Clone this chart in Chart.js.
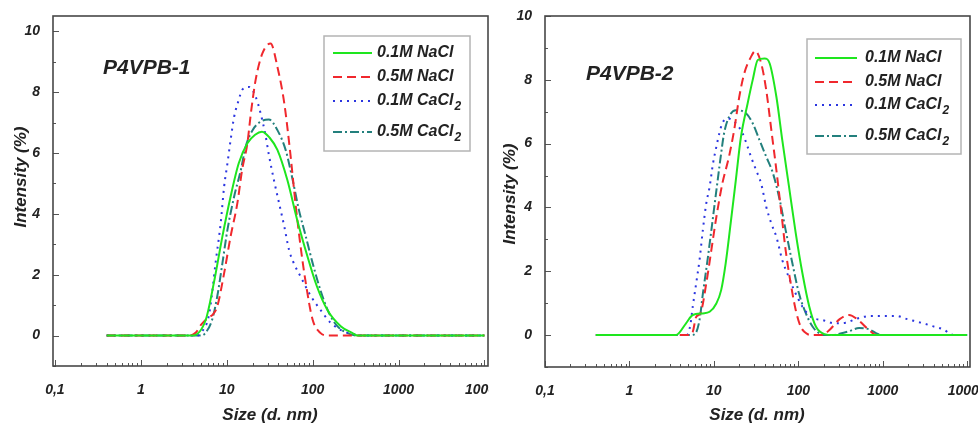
<!DOCTYPE html>
<html>
<head>
<meta charset="utf-8">
<script src="https://cdn.jsdelivr.net/npm/chart.js@4.4.1/dist/chart.umd.min.js"></script>
<style>
    html, body { margin: 0; padding: 0; background: #fff; }
    .row { display: flex; width: 978px; height: 427px; }
    .cell { width: 489px; height: 427px; }
</style>
</head>
<body>
<div class="row">
    <div class="cell"><canvas id="chart1" width="489" height="427"></canvas></div>
    <div class="cell"><canvas id="chart2" width="489" height="427"></canvas></div>
</div>
<script>

// =====================
// DATA
// =====================

const X_TICKS = [0.1, 1, 10, 100, 1000, 10000];
const Y_TICKS = [0, 2, 4, 6, 8, 10];

const LEGEND_LABELS = ['0.1M NaCl', '0.5M NaCl', '0.1M CaCl', '0.5M CaCl'];
const LEGEND_SUBS = ['', '', '2', '2'];

// P4VPB-1
const p1Nacl01X = [0.4, 3.98, 5.7, 7.08, 8.91, 11.1, 13.8, 17.4, 21.4, 25.7, 31.6, 38.9, 50.8, 66.1, 87.1, 112, 148, 214, 288, 331, 10000];
const p1Nacl01Y = [0, 0, 0.52, 1.73, 3.26, 4.57, 5.66, 6.32, 6.6, 6.7, 6.5, 6.1, 5.11, 3.8, 2.6, 1.62, 0.85, 0.3, 0.09, 0, 0];

const p1Nacl05X = [0.4, 3.63, 4.37, 5.01, 6.03, 6.92, 7.76, 9.33, 11.1, 13.3, 15.1, 17.4, 19.1, 21.7, 26.0, 32.4, 38.9, 46.8, 55.5, 63.1, 72.4, 83.2, 100, 123, 148, 10000];
const p1Nacl05Y = [0, 0, 0.1, 0.35, 0.58, 0.7, 0.96, 2.05, 3.26, 4.35, 5.44, 6.32, 7.3, 8.4, 9.27, 9.6, 8.83, 7.63, 5.88, 4.35, 2.93, 1.73, 0.52, 0.09, 0, 0];

const p1Cacl01X = [0.4, 4.57, 5.01, 6.17, 6.76, 7.41, 8.51, 9.33, 10.2, 11.1, 12.2, 13.8, 15.1, 18.2, 21.7, 24.8, 28.2, 30.9, 35.5, 40.7, 46.8, 53.1, 60.3, 72.4, 95.5, 123, 162, 229, 331, 398, 10000];
const p1Cacl01Y = [0, 0, 0.09, 0.63, 1.4, 2.38, 3.7, 4.9, 5.66, 6.43, 7.19, 7.74, 8.07, 8.17, 7.85, 7.3, 6.6, 5.95, 5.1, 4.35, 3.58, 2.82, 2.38, 1.94, 1.29, 0.85, 0.42, 0.14, 0.03, 0, 0];

const p1Cacl05X = [0.4, 5.01, 5.5, 6.76, 7.76, 8.91, 10.2, 12.2, 14.6, 16.6, 20.0, 24.8, 30.9, 38.9, 48.5, 57.5, 69.2, 83.2, 100, 123, 155, 195, 251, 331, 10000];
const p1Cacl05Y = [0, 0, 0.05, 0.52, 1.29, 2.38, 3.48, 4.57, 5.44, 6.2, 6.75, 7.03, 7.1, 6.75, 6.1, 5.22, 4.13, 3.26, 2.38, 1.5, 0.74, 0.3, 0.09, 0, 0];

// P4VPB-2
const p2Nacl01X = [0.4, 3.55, 4.68, 5.62, 7.41, 8.91, 10.7, 12.2, 13.8, 15.8, 18.2, 20.9, 25.1, 28.8, 33.1, 39.8, 45.7, 55.0, 64.6, 77.6, 93.3, 112, 135, 162, 204, 257, 10000];
const p2Nacl01Y = [0, 0, 0.37, 0.63, 0.68, 0.73, 0.99, 1.41, 2.25, 3.5, 4.86, 6.2, 7.26, 7.99, 8.62, 8.67, 8.52, 7.47, 6.11, 4.65, 3.19, 1.93, 0.89, 0.26, 0.03, 0, 0];

const p2Nacl05X = [0.4, 5.01, 5.62, 6.17, 6.92, 8.13, 9.33, 10.7, 12.6, 15.1, 17.4, 20.0, 22.9, 27.5, 30.9, 36.3, 41.7, 47.9, 55.0, 63.1, 70.8, 81.3, 93.3, 107, 129, 145, 191, 234, 309, 398, 525, 661, 851, 10000];
const p2Nacl05Y = [0, 0, 0.1, 0.57, 0.68, 1.62, 2.66, 3.7, 4.75, 5.59, 6.43, 7.47, 8.2, 8.72, 8.9, 8.52, 7.68, 6.43, 5.17, 3.81, 2.66, 1.62, 0.78, 0.26, 0.03, 0, 0, 0.16, 0.5, 0.63, 0.45, 0.2, 0, 0];

const p2Cacl01X = [0.4, 4.79, 5.25, 5.62, 6.17, 6.76, 7.41, 8.13, 8.91, 9.77, 10.7, 11.6, 12.6, 14.5, 17.4, 21.9, 25.1, 27.5, 31.6, 36.3, 41.7, 47.9, 55.0, 64.6, 74.1, 89.1, 112, 141, 195, 269, 363, 501, 724, 1000, 1445, 1950, 2818, 3890, 5370, 6166, 6918, 10000];
const p2Cacl01Y = [0, 0, 0.3, 0.89, 1.62, 2.35, 3.3, 4.13, 4.65, 5.38, 5.9, 6.32, 6.64, 6.79, 6.69, 6.32, 5.9, 5.59, 5.17, 4.75, 4.02, 3.5, 3.08, 2.35, 1.93, 1.41, 0.89, 0.57, 0.47, 0.37, 0.39, 0.52, 0.6, 0.6, 0.6, 0.5, 0.39, 0.28, 0.16, 0.05, 0, 0];

const p2Cacl05X = [0.4, 5.25, 5.89, 6.76, 7.41, 8.51, 9.77, 11.1, 12.2, 13.2, 15.1, 18.2, 24.0, 28.8, 34.7, 41.7, 50.1, 60.3, 70.8, 85.1, 102, 123, 148, 178, 200, 251, 316, 398, 525, 692, 832, 955, 10000];
const p2Cacl05Y = [0, 0, 0.02, 0.47, 1.3, 2.45, 3.7, 4.86, 5.7, 6.32, 6.84, 7.05, 6.95, 6.64, 6.11, 5.59, 5.07, 4.23, 3.29, 2.25, 1.3, 0.68, 0.26, 0.05, 0, 0, 0.05, 0.12, 0.22, 0.18, 0.06, 0, 0];


// =====================
// STYLE
// =====================

const FONT = '"Liberation Sans", Arial, sans-serif';
const TEXT = '#222';

const LINE_STYLES = [
    { color: '#1ee61e', dash: [] },
    { color: '#f0282d', dash: [9, 5] },
    { color: '#2b35e0', dash: [2, 5] },
    { color: '#23807d', dash: [9, 3, 2, 3] }
];

function pts(xs, ys) {
    return xs.map((x, i) => ({ x: x, y: ys[i] }));
}


// =====================
// DECOR PLUGIN (frame, ticks, legend, titles)
// =====================

const decorPlugin = {
    id: 'decor',
    afterDatasetsDraw(chart, args, opts) {
        const ctx = chart.ctx;
        const a = chart.chartArea;
        const xs = chart.scales.x;
        const ys = chart.scales.y;

        ctx.save();

        // inward ticks
        ctx.strokeStyle = '#555';
        ctx.lineWidth = 1;
        ctx.beginPath();
        for (let e = -1; e <= 4; e++) {
            for (let k = 1; k <= 9; k++) {
                const v = k * Math.pow(10, e);
                if (v < xs.min || v > xs.max) continue;
                const px = Math.round(xs.getPixelForValue(v)) + 0.5;
                const len = k === 1 ? 6 : 3;
                ctx.moveTo(px, a.bottom);
                ctx.lineTo(px, a.bottom - len);
            }
        }
        for (let v = Math.ceil(ys.min); v <= ys.max; v++) {
            const py = Math.round(ys.getPixelForValue(v)) + 0.5;
            const len = v % 2 === 0 ? 6 : 3;
            ctx.moveTo(a.left, py);
            ctx.lineTo(a.left + len, py);
        }
        ctx.stroke();

        // frame
        ctx.strokeStyle = '#484848';
        ctx.lineWidth = 1.6;
        ctx.strokeRect(a.left, a.top, a.right - a.left, a.bottom - a.top);

        // legend
        const lg = opts.legend;
        ctx.fillStyle = '#fff';
        ctx.fillRect(lg.x, lg.y, lg.w, lg.h);
        ctx.strokeStyle = '#b4b4b4';
        ctx.lineWidth = 1.5;
        ctx.strokeRect(lg.x, lg.y, lg.w, lg.h);

        chart.data.datasets.forEach((ds, i) => {
            const y = lg.rows[i];
            ctx.beginPath();
            ctx.strokeStyle = ds.borderColor;
            ctx.lineWidth = ds.borderWidth;
            ctx.setLineDash(ds.borderDash || []);
            ctx.moveTo(lg.lineX0, y);
            ctx.lineTo(lg.lineX1, y);
            ctx.stroke();
            ctx.setLineDash([]);

            ctx.fillStyle = TEXT;
            ctx.textAlign = 'left';
            ctx.textBaseline = 'middle';
            ctx.font = 'italic bold 16px ' + FONT;
            ctx.fillText(LEGEND_LABELS[i], lg.textX, y);
            if (LEGEND_SUBS[i]) {
                const w = ctx.measureText(LEGEND_LABELS[i]).width;
                ctx.font = 'italic bold 12px ' + FONT;
                ctx.fillText(LEGEND_SUBS[i], lg.textX + w + 1, y + 6);
            }
        });

        // panel title
        ctx.fillStyle = TEXT;
        ctx.font = 'italic bold 21px ' + FONT;
        ctx.textAlign = 'left';
        ctx.textBaseline = 'middle';
        ctx.fillText(opts.title.text, opts.title.x, opts.title.y);

        // axis titles
        ctx.font = 'italic bold 17px ' + FONT;
        ctx.textAlign = 'center';
        ctx.fillText('Size (d. nm)', opts.xTitle.x, opts.xTitle.y);

        ctx.translate(opts.yTitle.x, opts.yTitle.y);
        ctx.rotate(-Math.PI / 2);
        ctx.fillText('Intensity (%)', 0, 0);

        ctx.restore();
    }
};


// =====================
// CHART BUILDER
// =====================

function makeChart(id, series, cfg) {

    const datasets = series.map((s, i) => ({
        label: LEGEND_LABELS[i] + LEGEND_SUBS[i],
        data: pts(s[0], s[1]),
        borderColor: LINE_STYLES[i].color,
        borderDash: LINE_STYLES[i].dash,
        borderWidth: 2,
        pointRadius: 0,
        fill: false,
        cubicInterpolationMode: 'monotone'
    }));

    const tickFont = { family: FONT, size: 14, style: 'italic', weight: 'bold' };

    return new Chart(document.getElementById(id), {
        type: 'line',
        data: { datasets: datasets },
        plugins: [decorPlugin],
        options: {
            responsive: false,
            maintainAspectRatio: false,
            animation: false,
            layout: { padding: { left: 0, right: cfg.padRight, top: cfg.padTop, bottom: 0 } },
            plugins: {
                legend: { display: false },
                tooltip: { enabled: false },
                decor: cfg.decor
            },
            scales: {
                x: {
                    type: 'logarithmic',
                    min: cfg.xMin,
                    max: cfg.xMax,
                    grid: { display: false },
                    border: { display: false },
                    afterBuildTicks: axis => { axis.ticks = X_TICKS.map(v => ({ value: v })); },
                    afterFit: axis => {
                        axis.height = cfg.xAxisHeight;
                        axis.paddingLeft = 0;
                        axis.paddingRight = 0;
                    },
                    ticks: {
                        autoSkip: false,
                        maxRotation: 0,
                        padding: 8,
                        color: TEXT,
                        font: tickFont,
                        callback: v => String(v).replace('.', ',')
                    }
                },
                y: {
                    min: cfg.yMin,
                    max: cfg.yMax,
                    grid: { display: false },
                    border: { display: false },
                    afterBuildTicks: axis => { axis.ticks = Y_TICKS.map(v => ({ value: v })); },
                    afterFit: axis => {
                        axis.width = cfg.yAxisWidth;
                        axis.paddingTop = 0;
                        axis.paddingBottom = 0;
                    },
                    ticks: {
                        padding: 5,
                        color: TEXT,
                        font: tickFont
                    }
                }
            }
        }
    });
}

makeChart('chart1', [
    [p1Nacl01X, p1Nacl01Y],
    [p1Nacl05X, p1Nacl05Y],
    [p1Cacl01X, p1Cacl01Y],
    [p1Cacl05X, p1Cacl05Y]
], {
    xMin: 0.095, xMax: 11000, yMin: -1, yMax: 10.5,
    padRight: 1, padTop: 16, yAxisWidth: 53, xAxisHeight: 61,
    decor: {
        legend: { x: 324, y: 36, w: 146, h: 115, rows: [53, 77, 101, 132], lineX0: 333, lineX1: 372, textX: 377 },
        title: { text: 'P4VPB-1', x: 103, y: 68 },
        xTitle: { x: 270, y: 415 },
        yTitle: { x: 21, y: 177 }
    }
});

makeChart('chart2', [
    [p2Nacl01X, p2Nacl01Y],
    [p2Nacl05X, p2Nacl05Y],
    [p2Cacl01X, p2Cacl01Y],
    [p2Cacl05X, p2Cacl05Y]
], {
    xMin: 0.1, xMax: 10800, yMin: -1, yMax: 10,
    padRight: 8, padTop: 16, yAxisWidth: 56, xAxisHeight: 60,
    decor: {
        legend: { x: 318, y: 39, w: 154, h: 115, rows: [58, 82, 105, 136], lineX0: 326, lineX1: 368, textX: 376 },
        title: { text: 'P4VPB-2', x: 97, y: 74 },
        xTitle: { x: 268, y: 415 },
        yTitle: { x: 21, y: 194 }
    }
});

</script>
</body>
</html>
